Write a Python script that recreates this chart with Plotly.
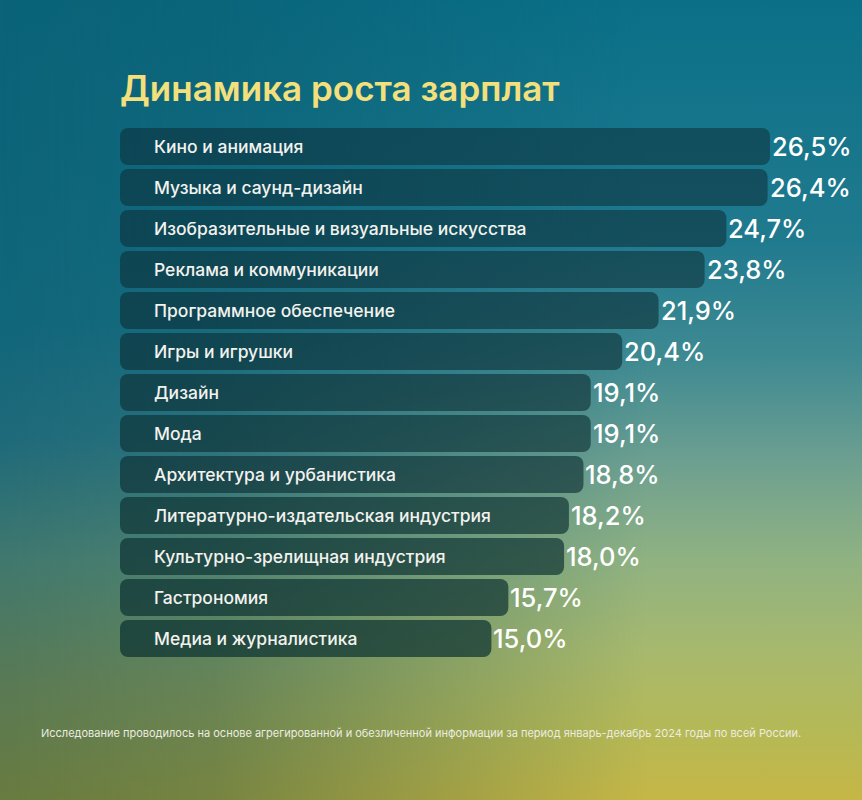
import base64
import plotly.graph_objects as go

# ---- data ----
categories = [
    "Кино и анимация",
    "Музыка и саунд-дизайн",
    "Изобразительные и визуальные искусства",
    "Реклама и коммуникации",
    "Программное обеспечение",
    "Игры и игрушки",
    "Дизайн",
    "Мода",
    "Архитектура и урбанистика",
    "Литературно-издательская индустрия",
    "Культурно-зрелищная индустрия",
    "Гастрономия",
    "Медиа и журналистика",
]
values = [26.5, 26.4, 24.7, 23.8, 21.9, 20.4, 19.1, 19.1, 18.8, 18.2, 18.0, 15.7, 15.0]
value_labels = [f"{v:.1f}".replace(".", ",") + "%" for v in values]

title_text = "Динамика роста зарплат"
footnote_text = ("Исследование проводилось на основе агрегированной и обезличенной информации "
                 "за период январь-декабрь 2024 годы по всей России.")

W, H = 862, 800

# ---- background gradient (SVG) ----
svg = f'''<svg xmlns="http://www.w3.org/2000/svg" width="{W}" height="{H}" viewBox="0 0 {W} {H}">
<defs>
<linearGradient id="gl" x1="0" y1="0" x2="0" y2="1">
<stop offset="0" stop-color="#0a6378"/>
<stop offset="0.4" stop-color="#11667a"/>
<stop offset="0.55" stop-color="#1f6a7a"/>
<stop offset="0.7" stop-color="#40786e"/>
<stop offset="0.86" stop-color="#5a7a54"/>
<stop offset="1" stop-color="#687b40"/>
</linearGradient>
<linearGradient id="gr" x1="0" y1="0" x2="0" y2="1">
<stop offset="0" stop-color="#0a7088"/>
<stop offset="0.3" stop-color="#207a8e"/>
<stop offset="0.45" stop-color="#3f8a92"/>
<stop offset="0.58" stop-color="#6ea090"/>
<stop offset="0.7" stop-color="#90b282"/>
<stop offset="0.82" stop-color="#a8b96c"/>
<stop offset="0.92" stop-color="#b6b955"/>
<stop offset="1" stop-color="#c6b646"/>
</linearGradient>
<linearGradient id="gm" x1="0" y1="0" x2="1" y2="0">
<stop offset="0" stop-color="black"/>
<stop offset="0.25" stop-color="#2a2a2a"/>
<stop offset="0.75" stop-color="white"/>
<stop offset="1" stop-color="white"/>
</linearGradient>
<mask id="m"><rect width="{W}" height="{H}" fill="url(#gm)"/></mask>
</defs>
<rect width="{W}" height="{H}" fill="url(#gl)"/>
<rect width="{W}" height="{H}" fill="url(#gr)" mask="url(#m)"/>
</svg>'''
bg_src = "data:image/svg+xml;base64," + base64.b64encode(svg.encode("utf-8")).decode("ascii")

FONT = "Inter"
RADIUS = 8
n = len(categories)
# bars get slightly more opaque towards the bottom of the panel
bar_colors = []
for i in range(n):
    t = i / (n - 1)
    r = round(12 - 2 * t)
    g = round(40 + 8 * t)
    b = round(50 - 2 * t)
    a = 0.5 + 0.2 * t
    bar_colors.append(f"rgba({r},{g},{b},{a:.3f})")

plot_left = 120
plot_w = W - plot_left
px_per_unit = 642 / 26.5
cap = RADIUS / px_per_unit          # width of the rounded left cap, in data units
x_min = -cap
x_max = x_min + plot_w / px_per_unit

fig = go.Figure()
# main bars (rounded at their right end)
fig.add_trace(go.Bar(
    x=values, y=categories, orientation="h",
    marker=dict(color=bar_colors, line=dict(width=0), cornerradius=RADIUS),
    hoverinfo="skip",
))
# small rounded cap at the left end of each bar
fig.add_trace(go.Bar(
    x=[-cap] * n, y=categories, orientation="h",
    marker=dict(color=bar_colors, line=dict(width=0), cornerradius=RADIUS),
    hoverinfo="skip",
))

annotations = []
for cat, v, lab in zip(categories, values, value_labels):
    annotations.append(dict(
        x=0, y=cat, xref="x", yref="y", text=cat, showarrow=False,
        xanchor="left", yanchor="middle", xshift=24,
        font=dict(family=FONT, size=17.5, color="#f2f2ee", weight=500),
    ))
    annotations.append(dict(
        x=v, y=cat, xref="x", yref="y", text=lab, showarrow=False,
        xanchor="left", yanchor="middle", xshift=0,
        font=dict(family=FONT, size=25.5, color="#ffffff", weight=500),
    ))

annotations.append(dict(
    x=118 / W, y=1 - 88 / H, xref="paper", yref="paper", text=title_text,
    showarrow=False, xanchor="left", yanchor="middle",
    font=dict(family=FONT, size=35, color="#f3e07c", weight=600),
))
annotations.append(dict(
    x=421 / W, y=1 - 733 / H, xref="paper", yref="paper", text=footnote_text,
    showarrow=False, xanchor="center", yanchor="middle",
    font=dict(family=FONT, size=11, color="#ecece0"),
))

fig.update_layout(
    width=W, height=H,
    margin=dict(l=0, r=0, t=0, b=0, pad=0),
    paper_bgcolor="#0a6a80",
    plot_bgcolor="rgba(0,0,0,0)",
    showlegend=False,
    barmode="relative",
    bargap=4 / 41,
    xaxis=dict(domain=[plot_left / W, 1], range=[x_min, x_max], visible=False, fixedrange=True),
    yaxis=dict(domain=[1 - 659 / H, 1 - 126 / H], autorange="reversed", visible=False, fixedrange=True,
               categoryorder="array", categoryarray=categories),
    annotations=annotations,
    images=[dict(source=bg_src, xref="paper", yref="paper", x=0, y=1, sizex=1, sizey=1,
                 sizing="stretch", layer="below", xanchor="left", yanchor="top")],
)

fig.write_html(
    "out.html",
    config={"displayModeBar": False},
    post_script="document.body.style.margin='0';document.body.style.overflow='hidden';",
)
